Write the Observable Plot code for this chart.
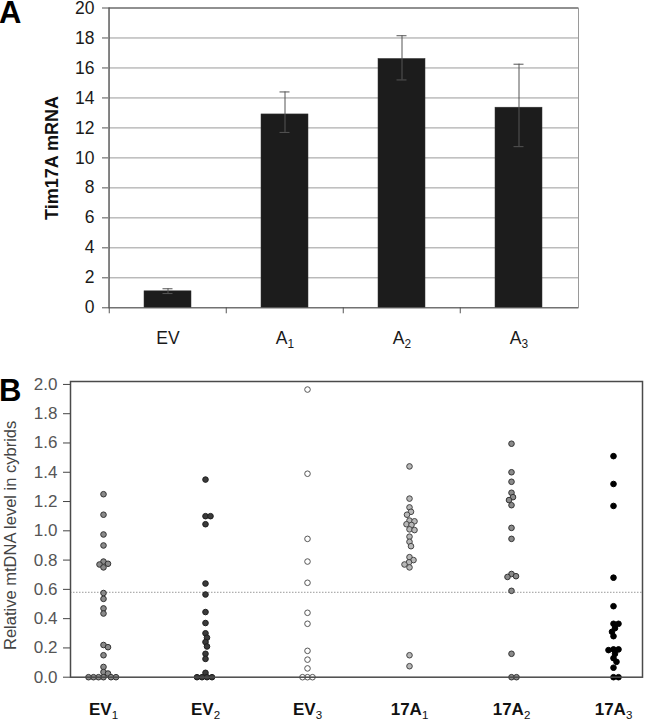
<!DOCTYPE html>
<html><head><meta charset="utf-8">
<script src="https://cdn.jsdelivr.net/npm/d3@7"></script>
<script src="https://cdn.jsdelivr.net/npm/@observablehq/plot@0.6"></script>
<style>
body{margin:0;background:#fff;}
#wrap{position:relative;width:652px;height:720px;font-family:"Liberation Sans",Arial,sans-serif;overflow:hidden;}
.panel{position:absolute;left:0;}
.lab{position:absolute;font-weight:bold;font-size:31px;line-height:1;z-index:2;}
</style></head><body>
<div id="wrap">
<div id="a" class="panel" style="top:0"></div>
<div id="b" class="panel" style="top:360px"></div>
<div class="lab" style="left:-1px;top:-3px">A</div>
<div class="lab" style="left:-1px;top:375px">B</div>
</div>
<script>
// ---------- Panel A data ----------
const catsA = ["EV", "A1", "A2", "A3"];
const meanA = [1.1, 12.9, 16.6, 13.35];
const lowA  = [0.95, 11.7, 15.2, 10.75];
const highA = [1.27, 14.4, 18.15, 16.25];
const yTicksA = [0, 2, 4, 6, 8, 10, 12, 14, 16, 18, 20];
const titleA = "Tim17A mRNA";

// ---------- Panel B data ----------
const groupsB = ["EV1", "EV2", "EV3", "17A1", "17A2", "17A3"];
const ev1 = [1.25, 1.11, 0.975, 0.90, 0.79, 0.775, 0.77, 0.75, 0.575, 0.535, 0.47, 0.435, 0.22, 0.205, 0.15, 0.07, 0.035, 0.025, 0, 0, 0, 0, 0, 0];
const ev2 = [1.35, 1.10, 1.10, 1.045, 0.64, 0.565, 0.445, 0.37, 0.30, 0.27, 0.24, 0.21, 0.16, 0.125, 0.03, 0, 0, 0, 0];
const ev3 = [1.965, 1.39, 0.945, 0.79, 0.645, 0.44, 0.365, 0.18, 0.12, 0.06, 0, 0, 0];
const a17_1 = [1.44, 1.22, 1.16, 1.13, 1.11, 1.07, 1.065, 1.045, 1.04, 1.01, 1.005, 0.96, 0.925, 0.895, 0.82, 0.80, 0.785, 0.77, 0.75, 0.15, 0.075];
const a17_2 = [1.595, 1.40, 1.335, 1.26, 1.23, 1.21, 1.175, 1.02, 0.945, 0.705, 0.69, 0.685, 0.59, 0.16, 0, 0];
const a17_3 = [1.51, 1.32, 1.17, 0.68, 0.485, 0.365, 0.365, 0.335, 0.31, 0.28, 0.19, 0.19, 0.185, 0.16, 0.13, 0.105, 0.065, 0, 0];
const valuesB = [ev1, ev2, ev3, a17_1, a17_2, a17_3];
const threshold = 0.58;
const yTicksB = [0, 0.2, 0.4, 0.6, 0.8, 1.0, 1.2, 1.4, 1.6, 1.8, 2.0];
const titleB = "Relative mtDNA level in cybrids";
const fillsB = ["#8a8a8a", "#3a3a3a", "#ffffff", "#b8b8b8", "#8a8a8a", "#000000"];
const strokesB = ["#333333", "#1e1e1e", "#555555", "#444444", "#333333", "#000000"];

const FONT = "'Liberation Sans', Arial, sans-serif";

// ---------- Panel A ----------
const tableA = catsA.map((c, i) => ({c, m: meanA[i], lo: lowA[i], hi: highA[i]}));
const xL = 108, xR = 578, pIn = 0.6, pOut = 0.3;
const step = (xR - xL) / (catsA.length - pIn + 2 * pOut);
const plotA = Plot.plot({
  width: 652, height: 360,
  marginTop: 7.5, marginBottom: 52.7, marginLeft: xL, marginRight: 652 - xR,
  style: {fontFamily: FONT, fontSize: "17px", color: "#1a1a1a", background: "transparent"},
  x: {domain: catsA, paddingInner: pIn, paddingOuter: pOut},
  y: {domain: [0, 20]},
  marks: [
    Plot.ruleY(yTicksA.filter(v => v > 0 && v < 20), {stroke: "#9a9a9a", strokeWidth: 1}),
    Plot.frame({stroke: "#9a9a9a"}),
    Plot.ruleY([20], {stroke: "#555"}),
    Plot.barY(tableA, {x: "c", y: "m", fill: "#1c1c1c", stroke: "#333", strokeWidth: 0.5}),
    Plot.ruleX(tableA, {x: "c", y1: "lo", y2: "hi", stroke: "#555"}),
    Plot.tickY(tableA, {x: "c", y: "hi", stroke: "#555", insetLeft: 18.5, insetRight: 18.5}),
    Plot.tickY(tableA, {x: "c", y: "lo", stroke: "#555", insetLeft: 18.5, insetRight: 18.5}),
    Plot.ruleY([0], {stroke: "#555"}),
    Plot.ruleX([catsA[0]], {dx: -step / 2, y1: 0, y2: 20, stroke: "#555"}),
    Plot.ruleX(catsA, {dx: -step / 2, y1: 0, y2: -0.4, stroke: "#555"}),
    Plot.axisY({ticks: yTicksA, tickSize: 6, tickPadding: 8, fontSize: 17.5, stroke: "#555", fill: "#1a1a1a", label: null}),
    Plot.axisX({tickSize: 0, tickPadding: 24, fontSize: 17.5, fill: "#1a1a1a", label: null}),
    Plot.text([titleA], {frameAnchor: "left", textAnchor: "middle", dx: -56, rotate: -90, text: d => d, fontWeight: "bold", fontSize: 18, fill: "#111"})
  ]
});
document.getElementById("a").appendChild(plotA);

// ---------- Panel B ----------
const mT = 21, mB = 43.3, hB = 360;
const yMax = 2.02;
const pxPerY = (hB - mT - mB) / yMax;
const xFirst = 103, xLast = 613;
const pxPerX = (xLast - xFirst) / (groupsB.length - 1);
const rDot = 2.8, minD = 4.6;

function dodge(vals) {
  const placed = [];
  const offs = new Array(vals.length).fill(0);
  const order = vals.map((v, i) => i).sort((a, b) => vals[b] - vals[a]);
  for (const i of order) {
    const y = vals[i] * pxPerY;
    for (let k = 0; k < 400; k++) {
      const off = (k % 2 === 1 ? 1 : -1) * Math.ceil(k / 2) * 0.5;
      const ok = placed.every(p => (p.x - off) ** 2 + (p.y - y) ** 2 >= minD * minD);
      if (ok) { offs[i] = off; placed.push({x: off, y}); break; }
    }
  }
  return offs;
}

const rowsB = [];
valuesB.forEach((vals, g) => {
  const offs = dodge(vals);
  vals.forEach((v, j) => rowsB.push({g, x: g + offs[j] / pxPerX, y: v}));
});

const plotB = Plot.plot({
  width: 652, height: hB,
  marginTop: mT, marginBottom: mB, marginLeft: 70, marginRight: 10,
  style: {fontFamily: FONT, fontSize: "17px", color: "#333", background: "transparent"},
  x: {type: "linear", domain: [0, groupsB.length - 1], range: [xFirst, xLast]},
  y: {domain: [0, yMax]},
  marks: [
    Plot.ruleY([threshold], {stroke: "#999", strokeDasharray: "1.5,1.5"}),
    ...groupsB.map((name, g) => Plot.dot(rowsB.filter(d => d.g === g), {
      x: "x", y: "y", r: rDot, fill: fillsB[g], stroke: strokesB[g], strokeWidth: 1
    })),
    Plot.frame({stroke: "#4a4a4a", strokeWidth: 1.5}),
    Plot.axisY({ticks: yTicksB, tickFormat: d3.format(".1f"), tickSize: 7, tickPadding: 6, fontSize: 17, stroke: "#444", fill: "#555", label: null}),
    Plot.axisX({ticks: d3.range(groupsB.length), tickFormat: i => groupsB[i], tickSize: 0, tickPadding: 26, fontSize: 17, fontWeight: "bold", fill: "#111", label: null}),
    Plot.text([titleB], {frameAnchor: "left", textAnchor: "middle", dx: -60, dy: 6, rotate: -90, text: d => d, fontSize: 16.5, fill: "#444"})
  ]
});
document.getElementById("b").appendChild(plotB);

// subscripts on category labels
function subscript(svg, labels) {
  svg.querySelectorAll("text").forEach(t => {
    const s = t.textContent;
    if (!labels.includes(s)) return;
    const m = s.match(/^(.*\D)(\d)$/);
    if (!m) return;
    t.textContent = "";
    t.appendChild(document.createTextNode(m[1]));
    const ts = document.createElementNS("http://www.w3.org/2000/svg", "tspan");
    ts.setAttribute("font-size", "0.68em");
    ts.setAttribute("dy", "0.35em");
    ts.setAttribute("font-weight", "normal");
    ts.textContent = m[2];
    t.appendChild(ts);
  });
}
subscript(plotA, catsA);
subscript(plotB, groupsB);
</script>
</body></html>
